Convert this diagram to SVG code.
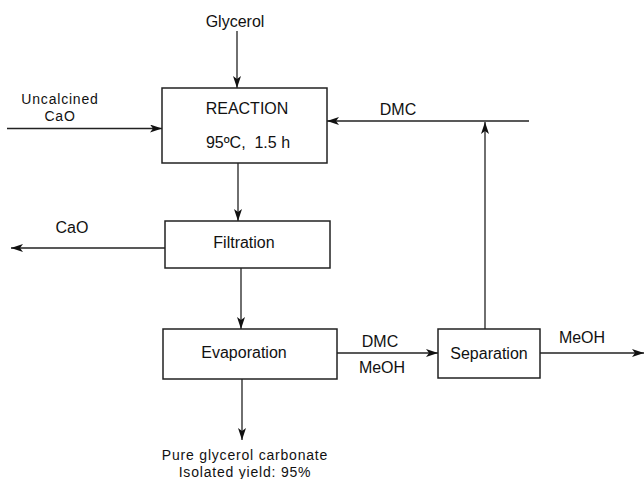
<svg xmlns="http://www.w3.org/2000/svg" width="644" height="479" viewBox="0 0 644 479">
<defs>
<style>
text{font-family:"Liberation Sans",Arial,sans-serif;font-size:16px;fill:#111;text-anchor:middle}
.sm{font-size:14px;letter-spacing:0.8px}
.box{fill:#fff;stroke:#222;stroke-width:1.5}
.ln{stroke:#222;stroke-width:1.3;fill:none}
</style>
<marker id="ah" viewBox="0 0 12 8" refX="12" refY="4" markerWidth="12" markerHeight="8" markerUnits="userSpaceOnUse" orient="auto">
<path d="M0,0 L12,4 L0,8 L3,4 Z" fill="#111"/>
</marker>
</defs>
<g id="connectors">
<line class="ln" x1="237" y1="31" x2="237" y2="88" marker-end="url(#ah)"/>
<line class="ln" x1="7" y1="128.5" x2="162" y2="128.5" marker-end="url(#ah)"/>
<line class="ln" x1="238" y1="163" x2="238" y2="221" marker-end="url(#ah)"/>
<line class="ln" x1="165" y1="248" x2="11" y2="248" marker-end="url(#ah)"/>
<line class="ln" x1="241" y1="268" x2="241" y2="329" marker-end="url(#ah)"/>
<line class="ln" x1="242" y1="379" x2="242" y2="440" marker-end="url(#ah)"/>
<line class="ln" x1="337" y1="353" x2="438" y2="353" marker-end="url(#ah)"/>
<line class="ln" x1="540" y1="353" x2="644" y2="353" marker-end="url(#ah)"/>
<line class="ln" x1="485" y1="329" x2="485" y2="122" marker-end="url(#ah)"/>
<line class="ln" x1="529" y1="121" x2="327" y2="121" marker-end="url(#ah)"/>
</g>
<g id="glycerol"><text x="235" y="27">Glycerol</text></g>
<g id="uncalcined"><text class="sm" x="60" y="104">Uncalcined</text><text class="sm" x="60" y="121">CaO</text></g>
<g id="reaction">
<rect class="box" x="162" y="88" width="165" height="75"/>
<text x="247" y="114">REACTION</text>
<text x="248" y="148" style="white-space:pre">95ºC,  1.5 h</text>
</g>
<g id="dmc-recycle"><text x="398" y="115">DMC</text></g>
<g id="filtration">
<rect class="box" x="165" y="221" width="165" height="47"/>
<text x="244" y="248">Filtration</text>
</g>
<g id="cao-out"><text x="72" y="233">CaO</text></g>
<g id="evaporation">
<rect class="box" x="163" y="329" width="174" height="50"/>
<text x="244" y="358">Evaporation</text>
</g>
<g id="dmc-meoh"><text x="380" y="347">DMC</text><text x="382" y="373">MeOH</text></g>
<g id="separation">
<rect class="box" x="438" y="329" width="102" height="49"/>
<text x="489" y="359">Separation</text>
</g>
<g id="meoh-out"><text x="582" y="343">MeOH</text></g>
<g id="product"><text class="sm" x="245" y="460">Pure glycerol carbonate</text><text class="sm" x="245" y="477">Isolated yield: 95%</text></g>
</svg>
